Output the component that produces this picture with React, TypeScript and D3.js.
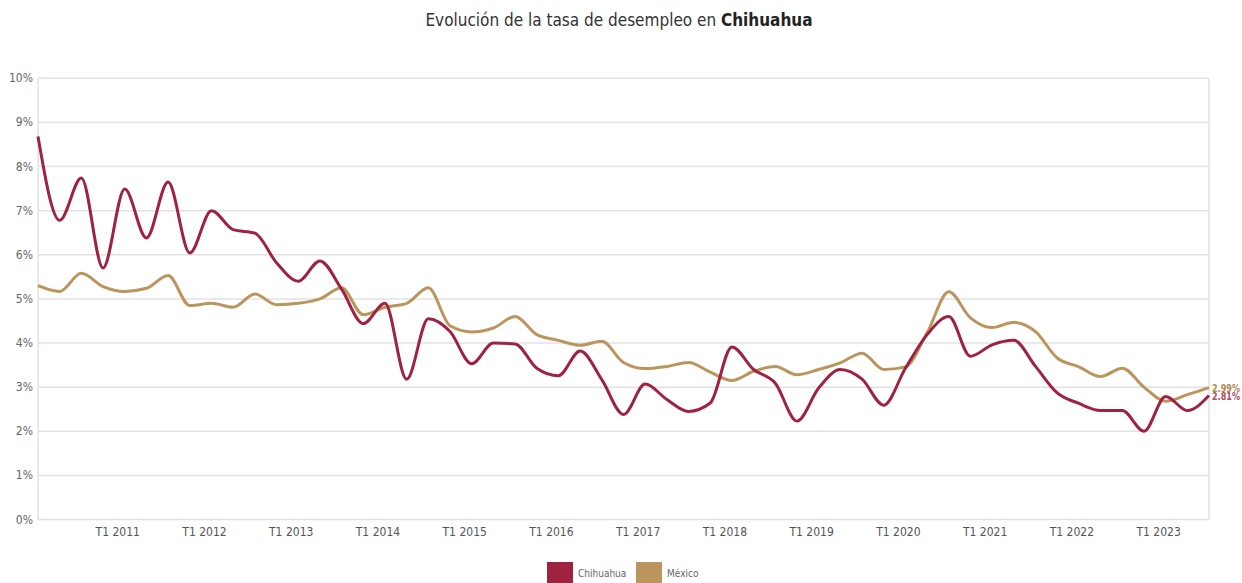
import * as d3 from 'd3'
import React, { useEffect, useRef } from 'react'

const width = 1242
const height = 583

// quarters T1 2010 .. T3 2023
const years = d3.range(2010, 2024)
const quarters: string[] = years.flatMap((y) => ['T1', 'T2', 'T3', 'T4'].map((q) => `${q} ${y}`)).slice(0, 55)

const tickLabels = [
  'T1 2011', 'T1 2012', 'T1 2013', 'T1 2014', 'T1 2015', 'T1 2016', 'T1 2017',
  'T1 2018', 'T1 2019', 'T1 2020', 'T1 2021', 'T1 2022', 'T1 2023',
]

const yTicks = [0, 1, 2, 3, 4, 5, 6, 7, 8, 9, 10]

const chihuahua = [
  8.68, 6.78, 7.74, 5.7, 7.49, 6.38, 7.65, 6.04, 7.0, 6.57, 6.49, 5.82,
  5.4, 5.86, 5.22, 4.44, 4.9, 3.18, 4.55, 4.26, 3.53, 4.0, 3.98, 3.43,
  3.26, 3.82, 3.17, 2.38, 3.07, 2.72, 2.45, 2.64, 3.91, 3.4, 3.09, 2.23,
  2.98, 3.4, 3.18, 2.59, 3.43, 4.19, 4.6, 3.7, 3.96, 4.06, 3.47, 2.87,
  2.63, 2.47, 2.47, 2.0, 2.79, 2.47, 2.81,
]

const mexico = [
  5.3, 5.17, 5.58, 5.28, 5.17, 5.24, 5.53, 4.85, 4.9, 4.81, 5.11, 4.87,
  4.9, 5.0, 5.25, 4.64, 4.81, 4.9, 5.25, 4.39, 4.25, 4.34, 4.6, 4.19,
  4.06, 3.95, 4.04, 3.56, 3.42, 3.47, 3.56, 3.34, 3.15, 3.36, 3.47, 3.28,
  3.4, 3.55, 3.77, 3.4, 3.46, 4.23, 5.16, 4.57, 4.35, 4.47, 4.26, 3.66,
  3.46, 3.24, 3.43, 3.0, 2.68, 2.83, 2.99,
]

const series = [
  { name: 'Chihuahua', values: chihuahua, color: '#9f2241', label: '#b04a63' },
  { name: 'México', values: mexico, color: '#bc955c', label: '#b08a50' },
]

const font = "'DejaVu Sans Condensed', 'Liberation Sans Narrow', Roboto, sans-serif"

const App: React.FC = () => {
  const ref = useRef<SVGSVGElement>(null)

  useEffect(() => {
    document.body.style.margin = '0'
    const svg = d3.select(ref.current)
    svg.selectAll('*').remove()

    const x = d3.scalePoint<string>().domain(quarters).range([38, 1209])
    const y = d3.scaleLinear().domain([0, 10]).range([519.5, 78.3])

    // title
    const title = svg
      .append('text')
      .attr('x', 619)
      .attr('y', 26)
      .attr('text-anchor', 'middle')
      .attr('font-family', font)
      .attr('font-size', 17)
      .attr('fill', '#333')
    title.append('tspan').text('Evolución de la tasa de desempleo en ')
    title.append('tspan').attr('font-weight', 'bold').attr('fill', '#222').text('Chihuahua')

    // grid
    svg
      .append('g')
      .selectAll('line')
      .data(yTicks)
      .enter()
      .append('line')
      .attr('x1', 38)
      .attr('x2', 1209)
      .attr('y1', (d) => y(d))
      .attr('y2', (d) => y(d))
      .attr('stroke', '#e2e2e2')
      .attr('stroke-width', 1.5)

    // side axis lines
    ;[38, 1209].forEach((px) => {
      svg
        .append('line')
        .attr('x1', px)
        .attr('x2', px)
        .attr('y1', y(10))
        .attr('y2', y(0))
        .attr('stroke', '#e2e2e2')
        .attr('stroke-width', 1.5)
    })

    // y labels
    svg
      .append('g')
      .selectAll('text')
      .data(yTicks)
      .enter()
      .append('text')
      .attr('x', 33)
      .attr('y', (d) => y(d) + 4)
      .attr('text-anchor', 'end')
      .attr('font-family', font)
      .attr('font-size', 12)
      .attr('fill', '#666')
      .text((d) => `${d}%`)

    // x labels
    svg
      .append('g')
      .selectAll('text')
      .data(tickLabels)
      .enter()
      .append('text')
      .attr('x', (d) => (x(d) || 0) - 7)
      .attr('y', 536)
      .attr('text-anchor', 'middle')
      .attr('font-family', font)
      .attr('font-size', 12)
      .attr('fill', '#555')
      .text((d) => d)

    const line = d3
      .line<number>()
      .x((d, i) => x(quarters[i]) || 0)
      .y((d) => y(d))
      .curve(d3.curveMonotoneX)

    // draw México first, Chihuahua on top
    ;[series[1], series[0]].forEach((s) => {
      svg
        .append('path')
        .attr('d', line(s.values) || '')
        .attr('fill', 'none')
        .attr('stroke', s.color)
        .attr('stroke-width', 3)
        .attr('stroke-linejoin', 'round')
    })

    // end labels
    series
      .slice()
      .reverse()
      .forEach((s) => {
        const last = s.values[s.values.length - 1]
        svg
          .append('text')
          .attr('x', 1212)
          .attr('y', y(last) + 4)
          .attr('font-family', font)
          .attr('font-size', 11)
          .attr('font-weight', 'bold')
          .attr('fill', s.label)
          .attr('textLength', 28)
          .attr('lengthAdjust', 'spacingAndGlyphs')
          .text(`${last.toFixed(2)}%`)
      })

    // legend
    const legend = svg.append('g')
    const legendX = [547, 636]
    series.forEach((s, i) => {
      legend
        .append('rect')
        .attr('x', legendX[i])
        .attr('y', 562)
        .attr('width', 26)
        .attr('height', 22)
        .attr('fill', s.color)
      legend
        .append('text')
        .attr('x', legendX[i] + 31)
        .attr('y', 577)
        .attr('font-family', font)
        .attr('font-size', 10)
        .attr('fill', '#666')
        .text(s.name)
    })
  }, [])

  return <svg ref={ref} width={width} height={height} style={{ display: 'block' }} />
}

export default App
